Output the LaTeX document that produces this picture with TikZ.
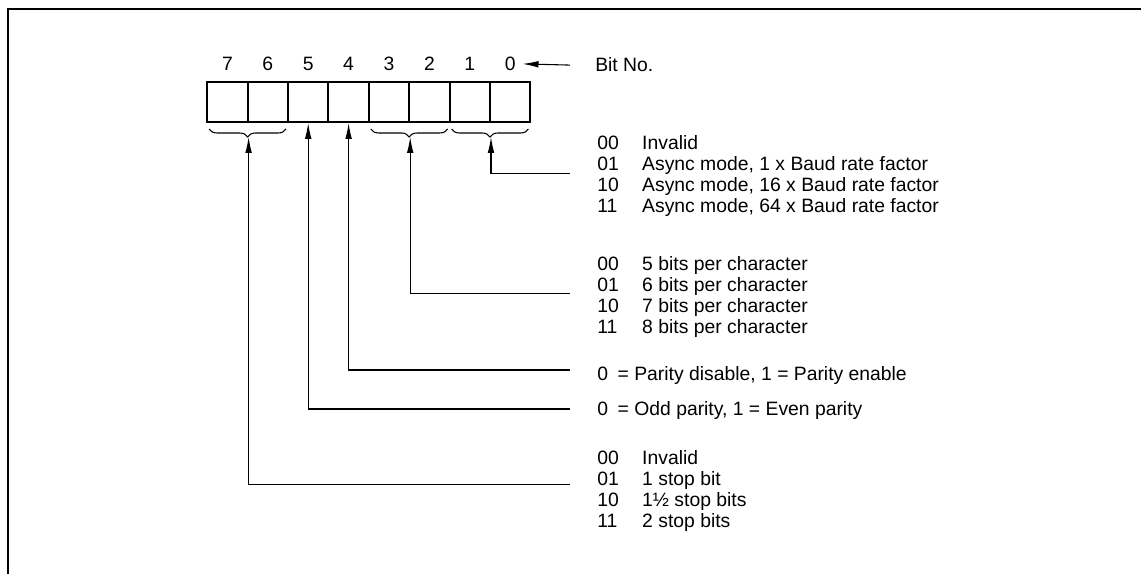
\documentclass[tikz,border=0pt]{standalone}
\usepackage{fontspec}
\setmainfont{Liberation Sans}
\usetikzlibrary{arrows.meta, positioning, calc, decorations.pathreplacing}

\begin{document}
\begin{tikzpicture}[
    x=0.75pt, y=-0.75pt,
    font=\fontsize{14.5}{15.75}\selectfont,
    bitbox/.style={
        rectangle, draw, line width=1.5pt,
        minimum width=30.3pt, minimum height=30pt,
        inner sep=0pt
    },
    bitnum/.style={inner sep=0pt},
    desc/.style={inner sep=0pt, anchor=base west},
    lead/.style={line width=0.8pt},
    ptr/.style={lead, -{Latex[length=12pt, width=5pt]}},
    grp/.style={
        decorate, line width=0.8pt,
        decoration={brace, mirror, amplitude=6pt}
    },
    frame/.style={line width=1.5pt}
]

\useasboundingbox (0,0) rectangle (1141,574);

% frame, top and left edge only
\draw[frame] (8,574) -- (8,9) -- (1141,9);

% the eight bits of the mode register
\foreach \i [count=\k from 0] in {7,6,...,0} {
    \node (b\i) [bitbox] at (227.4+40.4*\k, 102) {};
    \node (n\i) [bitnum, above=7.5pt of b\i] {\i};
}

\node (bitno) [desc] at (595,72) {Bit No.};
\draw[ptr] ([xshift=-18.75pt]bitno.west) -- ([xshift=5pt]n0.east);

% braces under the bit pairs
\draw[grp] ([shift={(3,6)}]b7.south west) -- ([shift={(-3,6)}]b6.south east);
\draw[grp] ([shift={(3,6)}]b3.south west) -- ([shift={(-3,6)}]b2.south east);
\draw[grp] ([shift={(3,6)}]b1.south west) -- ([shift={(-3,6)}]b0.south east);
\coordinate (g76) at ($(b7.south east)+(0,14)$);
\coordinate (g32) at ($(b3.south east)+(0,14)$);
\coordinate (g10) at ($(b1.south east)+(0,14)$);

% descriptions
\node (modes) [desc] at (597,150) {\begin{tabular}[t]{@{}l@{\hspace{17.6pt}}l@{}}
    00 & Invalid\\
    01 & Async mode, 1 x Baud rate factor\\
    10 & Async mode, 16 x Baud rate factor\\
    11 & Async mode, 64 x Baud rate factor
\end{tabular}};
\node (chars) [desc] at (597,270) {\begin{tabular}[t]{@{}l@{\hspace{17.6pt}}l@{}}
    00 & 5 bits per character\\
    01 & 6 bits per character\\
    10 & 7 bits per character\\
    11 & 8 bits per character
\end{tabular}};
\node (pen) [desc] at (597,380) {0\enspace= Parity disable, 1 = Parity enable};
\node (odd) [desc] at (597,415) {0\enspace= Odd parity, 1 = Even parity};
\node (stops) [desc] at (597,464) {\begin{tabular}[t]{@{}l@{\hspace{17.6pt}}l@{}}
    00 & Invalid\\
    01 & 1 stop bit\\
    10 & 1½ stop bits\\
    11 & 2 stop bits
\end{tabular}};

% leader lines
\draw[ptr] ([shift={(-27,-4)}]modes.west) -| (g10);
\draw[ptr] ([shift={(-27,-4)}]chars.west) -| (g32);
\draw[ptr] ([shift={(-27,-5)}]pen.west)   -| (b4.south);
\draw[ptr] ([shift={(-27,-1)}]odd.west)   -| (b5.south);
\draw[ptr] ([shift={(-27,-7)}]stops.west) -| (g76);

\end{tikzpicture}
\end{document}
